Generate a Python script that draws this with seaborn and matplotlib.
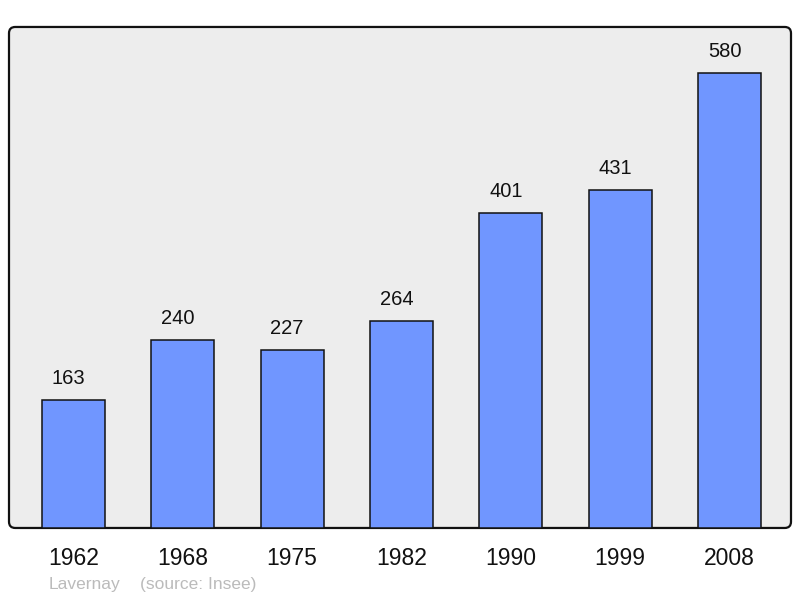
import matplotlib
matplotlib.use("Agg")
import matplotlib.pyplot as plt
import seaborn as sns
import pandas as pd
from matplotlib.patches import FancyBboxPatch

years = ["1962", "1968", "1975", "1982", "1990", "1999", "2008"]
population = [163, 240, 227, 264, 401, 431, 580]
place = "Lavernay"
source = "(source: Insee)"

sns.set_theme(style="white")
plt.rcParams["font.family"] = ["Liberation Sans", "DejaVu Sans"]

df = pd.DataFrame({"year": years, "pop": population})

fig = plt.figure(figsize=(8, 5.98), dpi=100)
ax = fig.add_axes([0.01125, 0.1171, 0.9775, 0.8378])
ax.set_facecolor("none")

bg = FancyBboxPatch((0, 0), 1, 1, boxstyle="round,pad=0,rounding_size=0.008",
                    transform=ax.transAxes, facecolor="#EDEDED", edgecolor="#111111",
                    linewidth=1.6, zorder=0, clip_on=False, mutation_aspect=782/501)
ax.add_patch(bg)

sns.barplot(data=df, x="year", y="pop", color="#7096FF", width=0.576,
            edgecolor="#111111", linewidth=1.1, saturation=1, ax=ax, zorder=2)

for i, v in enumerate(population):
    ax.annotate(str(v), (i, v), xytext=(-3.6, 15.5), textcoords="offset points",
                ha="center", va="center", fontsize=14.5, color="#111111")

ax.set_xlim(-0.59, 6.5625)
ax.set_ylim(0, 638.6)
for s in ax.spines.values():
    s.set_visible(False)
ax.set_yticks([])
ax.set_xlabel("")
ax.set_ylabel("")
ax.tick_params(axis="x", length=0, pad=14, labelsize=16.5, colors="#111111")
for lab in ax.get_xticklabels():
    lab.set_x(lab.get_position()[0])

fig.text(49/800, 1 - 584/598, place, fontsize=12.5, color="#BBBBBB", va="center", ha="left")
fig.text(140/800, 1 - 584/598, source, fontsize=12.5, color="#BBBBBB", va="center", ha="left")

fig.savefig("out.png", dpi=100)
